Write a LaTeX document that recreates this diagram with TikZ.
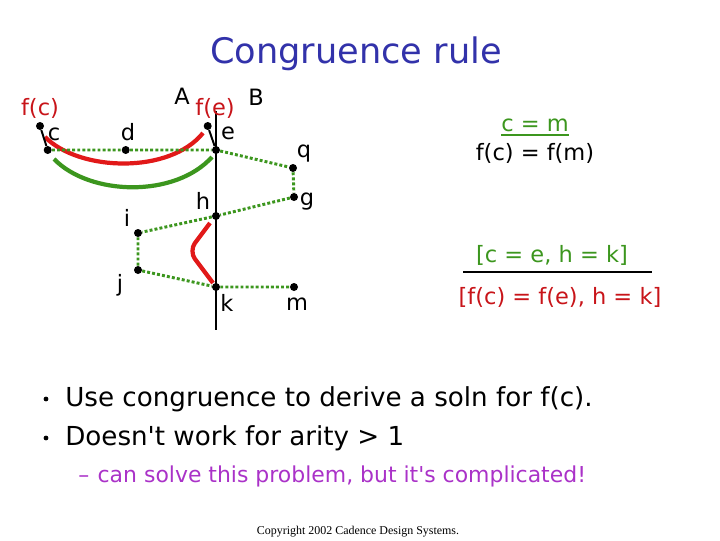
\documentclass[tikz,border=0pt]{standalone}
\usepackage{fontspec}
\setmainfont{DejaVu Sans}[Ligatures=TeXOff]
\newfontfamily\copyfont{Liberation Serif}
\definecolor{grn}{RGB}{60,150,30}
\definecolor{rd}{RGB}{225,25,25}
\definecolor{drd}{RGB}{200,20,25}
\definecolor{ttl}{RGB}{50,50,170}
\definecolor{prp}{RGB}{170,50,200}
\begin{document}
\begin{tikzpicture}[x=0.025cm,y=-0.025cm,
    pt/.style={circle,fill=black,inner sep=0pt,minimum size=0.2cm},
    bdot/.style={circle,fill=black,inner sep=0pt,minimum size=0.12cm},
    lbl/.style={font=\fontsize{16}{0}\selectfont,inner sep=0pt},
    gline/.style={draw=grn,line width=2.1pt,dash pattern=on 2.1pt off 1.5pt},
    curve/.style={line width=3pt},
    bullet/.style={font=\fontsize{18.6}{0}\selectfont,inner sep=0pt,anchor=west}]
    \useasboundingbox (0,0) rectangle (720,540);
    %заголовок
    \node[font=\fontsize{25}{0}\selectfont,text=ttl,anchor=base] (title) at (356,63) {Congruence rule};
    %вертикальная линия
    \coordinate (top) at (216,111);
    \coordinate (bot) at (216,330);
    \draw[line width=1.4pt] (top) -- (bot);
    %отрисовка дуг
    \draw[curve,rd] (45,137) .. controls (80,172) and (170,174) .. (203,133);
    \draw[curve,grn] (54,159) .. controls (90,196) and (175,198) .. (212,157);
    \draw[curve,rd,rounded corners=7pt] (210,223) -- (189,251) -- (213,283);
    %отрисовка точек
    \node[pt] (fc) at (40,126) {};
    \node[pt] (c) at (47.7,150) {};
    \node[pt] (d) at (125.7,150) {};
    \node[pt] (fe) at (207.7,126) {};
    \node[pt] (e) at (216,150) {};
    \node[pt] (q) at (293,168) {};
    \node[pt] (g) at (294,197) {};
    \node[pt] (h) at (216,216) {};
    \node[pt] (i) at (138,233) {};
    \node[pt] (j) at (138,270) {};
    \node[pt] (k) at (216,287) {};
    \node[pt] (m) at (294,287) {};
    %отрисовка связей
    \draw[line width=1.4pt] (fc) -- (c);
    \draw[line width=1.4pt] (fe) -- (e);
    \draw[gline] (c) -- (d) -- (e) -- (q) -- (g) -- (h) -- (i) -- (j) -- (k) -- (m);
    %подписи точек
    \node[lbl,text=drd] (lfc) at (40,108) {f(c)};
    \node[lbl] (lc) at (54,134) {c};
    \node[lbl] (ld) at (128,132) {d};
    \node[lbl] (la) at (182,96) {A};
    \node[lbl,text=drd] (lfe) at (215,108) {f(e)};
    \node[lbl] (lb) at (256,97) {B};
    \node[lbl] (le) at (228,133) {e};
    \node[lbl] (lq) at (304,154) {q};
    \node[lbl] (lg) at (307,202) {g};
    \node[lbl] (lh) at (203,201) {h};
    \node[lbl] (li) at (127,218) {i};
    \node[lbl] (lj) at (120,285) {j};
    \node[lbl] (lk) at (227,303) {k};
    \node[lbl] (lm) at (297,304) {m};
    %правая часть
    \node[lbl,text=grn] (cm) at (535,125) {c = m};
    \draw[grn,line width=1.4pt] ([yshift=-3pt]cm.base west) -- ([yshift=-3pt]cm.base east);
    \node[lbl] (fcm) at (535,153) {f(c) = f(m)};
    \node[lbl,text=grn] (prem) at (552,255) {[c = e, h = k]};
    \coordinate (rl) at (463,272);
    \coordinate (rr) at (652,272);
    \draw[line width=2pt] (rl) -- (rr);
    \node[lbl,text=drd] (concl) at (560,297) {[f(c) = f(e), h = k]};
    %пункты
    \node[bdot] (d1) at (46,399) {};
    \node[bullet] (b1) at (65,399) {Use congruence to derive a soln for f(c).};
    \node[bdot] (d2) at (46,438) {};
    \node[bullet] (b2) at (65,438) {Doesn't work for arity > 1};
    \node[bullet,font=\fontsize{15.6}{0}\selectfont,text=prp] (b3) at (78,476) {–\hspace{6pt}can solve this problem, but it's complicated!};
    \node[font=\copyfont\fontsize{8.5}{0}\selectfont,inner sep=0pt] (copy) at (358,532) {Copyright 2002 Cadence Design Systems.};
\end{tikzpicture}
\end{document}
